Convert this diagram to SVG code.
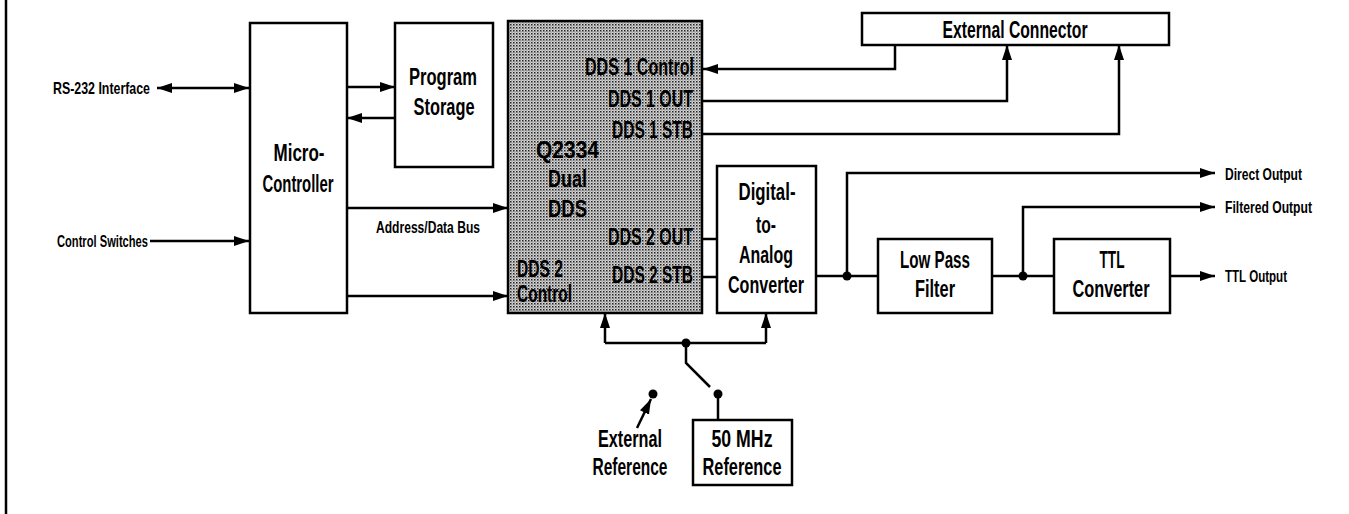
<svg xmlns="http://www.w3.org/2000/svg" width="1349" height="514" viewBox="0 0 1349 514">
<style>
.box{fill:#fff;stroke:#000;stroke-width:2.5}
.ln{fill:none;stroke:#000;stroke-width:2.5}
.ar{fill:none;stroke:#000;stroke-width:2.5;marker-end:url(#ah)}
text{font-family:"Liberation Sans","DejaVu Sans",sans-serif;font-weight:bold;fill:#000}
.big{font-size:23px;text-anchor:middle}
.dds{font-size:24px}
.sm{font-size:17px}
</style>
<defs>
<marker id="ah" markerUnits="userSpaceOnUse" markerWidth="15" markerHeight="11" refX="15" refY="5.5" orient="auto-start-reverse">
<path d="M0,0.5 L15,5.5 L0,10.5 z" fill="#000"/>
</marker>
<pattern id="hatch" width="3" height="3" patternUnits="userSpaceOnUse">
<rect width="3" height="3" fill="#d6d6d6"/>
<rect width="1.5" height="1.5" fill="#222"/>
<rect x="1.5" y="1.5" width="1" height="1" fill="#555"/>
</pattern>
</defs>

<line x1="6" y1="0" x2="6" y2="514" stroke="#000" stroke-width="2.5"/>

<g id="connectors">
<line class="ar" x1="157" y1="88" x2="249" y2="88" marker-start="url(#ah)"/>
<line class="ar" x1="150" y1="241" x2="249" y2="241" stroke-width="1.6"/>
<line class="ar" x1="347" y1="87" x2="395" y2="87"/>
<line class="ar" x1="395" y1="118" x2="347" y2="118"/>
<line class="ar" x1="347" y1="208" x2="508" y2="208"/>
<line class="ar" x1="347" y1="296" x2="508" y2="296"/>
<path class="ar" d="M895,45 V69 H703"/>
<path class="ar" d="M702,101 H1007 V45"/>
<path class="ar" d="M702,134 H1119 V45"/>
<line class="ln" x1="702" y1="239" x2="717" y2="239"/>
<line class="ln" x1="702" y1="277" x2="717" y2="277"/>
<line class="ln" x1="816" y1="276" x2="878" y2="276"/>
<path class="ar" d="M847,276 V173 H1215"/>
<line class="ln" x1="992" y1="276" x2="1054" y2="276"/>
<path class="ar" d="M1023,276 V207 H1215"/>
<line class="ar" x1="1170" y1="276" x2="1215" y2="276"/>
<circle cx="847" cy="276" r="4.5" fill="#000"/>
<circle cx="1023" cy="276" r="4.5" fill="#000"/>
<path class="ar" d="M605,343 V313"/>
<path class="ar" d="M766,343 V313"/>
<line class="ln" x1="605" y1="343" x2="766" y2="343"/>
<circle cx="686" cy="343" r="4.5" fill="#000"/>
<path class="ln" d="M686,343 V363 L710,387"/>
<circle cx="718" cy="394" r="4.5" fill="#000"/>
<circle cx="653" cy="394" r="4.5" fill="#000"/>
<line class="ln" x1="718" y1="394" x2="718" y2="420"/>
<line class="ar" x1="637" y1="428" x2="651" y2="399"/>
</g>

<g id="labels">
<text class="sm" x="53" y="94" textLength="97" lengthAdjust="spacingAndGlyphs">RS-232 Interface</text>
<text class="sm" x="57" y="247" textLength="91" lengthAdjust="spacingAndGlyphs">Control Switches</text>
<text class="sm" x="376" y="233" textLength="104" lengthAdjust="spacingAndGlyphs">Address/Data Bus</text>
<text class="sm" x="1225" y="180" textLength="77" lengthAdjust="spacingAndGlyphs">Direct Output</text>
<text class="sm" x="1225" y="213" textLength="87" lengthAdjust="spacingAndGlyphs">Filtered Output</text>
<text class="sm" x="1225" y="282" textLength="62" lengthAdjust="spacingAndGlyphs">TTL Output</text>
<text class="big" x="630" y="447" textLength="64" lengthAdjust="spacingAndGlyphs">External</text>
<text class="big" x="630" y="475" textLength="75" lengthAdjust="spacingAndGlyphs">Reference</text>
</g>

<g id="micro">
<rect class="box" x="250" y="23" width="97" height="290"/>
<text class="big" x="299" y="161" textLength="51" lengthAdjust="spacingAndGlyphs">Micro-</text>
<text class="big" x="298" y="192" textLength="71" lengthAdjust="spacingAndGlyphs">Controller</text>
</g>

<g id="program-storage">
<rect class="box" x="395" y="23" width="98" height="144"/>
<text class="big" x="443" y="85" textLength="68" lengthAdjust="spacingAndGlyphs">Program</text>
<text class="big" x="444" y="115" textLength="61" lengthAdjust="spacingAndGlyphs">Storage</text>
</g>

<g id="dds">
<rect x="508" y="21" width="194" height="292" fill="url(#hatch)" stroke="#000" stroke-width="2.5"/>
<text class="dds" x="585" y="75" textLength="109" lengthAdjust="spacingAndGlyphs">DDS 1 Control</text>
<text class="dds" x="608" y="107" textLength="85" lengthAdjust="spacingAndGlyphs">DDS 1 OUT</text>
<text class="dds" x="612" y="138" textLength="81" lengthAdjust="spacingAndGlyphs">DDS 1 STB</text>
<text class="dds" x="536" y="158" textLength="63" lengthAdjust="spacingAndGlyphs">Q2334</text>
<text class="dds" x="548" y="187" textLength="39" lengthAdjust="spacingAndGlyphs">Dual</text>
<text class="dds" x="548" y="217" textLength="39" lengthAdjust="spacingAndGlyphs">DDS</text>
<text class="dds" x="608" y="245" textLength="85" lengthAdjust="spacingAndGlyphs">DDS 2 OUT</text>
<text class="dds" x="612" y="283" textLength="81" lengthAdjust="spacingAndGlyphs">DDS 2 STB</text>
<text class="dds" x="517" y="277" textLength="46" lengthAdjust="spacingAndGlyphs">DDS 2</text>
<text class="dds" x="517" y="302" textLength="55" lengthAdjust="spacingAndGlyphs">Control</text>
</g>

<g id="ext-connector">
<rect class="box" x="862" y="13" width="307" height="32"/>
<text class="big" x="1015" y="38" textLength="145" lengthAdjust="spacingAndGlyphs">External Connector</text>
</g>

<g id="dac">
<rect class="box" x="717" y="166" width="99" height="147"/>
<text class="big" x="767" y="200" textLength="57" lengthAdjust="spacingAndGlyphs">Digital-</text>
<text class="big" x="766" y="233" textLength="20" lengthAdjust="spacingAndGlyphs">to-</text>
<text class="big" x="766" y="263" textLength="54" lengthAdjust="spacingAndGlyphs">Analog</text>
<text class="big" x="766" y="293" textLength="76" lengthAdjust="spacingAndGlyphs">Converter</text>
</g>

<g id="lpf">
<rect class="box" x="878" y="239" width="114" height="74"/>
<text class="big" x="935" y="268" textLength="70" lengthAdjust="spacingAndGlyphs">Low Pass</text>
<text class="big" x="935" y="297" textLength="40" lengthAdjust="spacingAndGlyphs">Filter</text>
</g>

<g id="ttl">
<rect class="box" x="1054" y="239" width="116" height="74"/>
<text class="big" x="1112" y="268" textLength="25" lengthAdjust="spacingAndGlyphs">TTL</text>
<text class="big" x="1111" y="297" textLength="77" lengthAdjust="spacingAndGlyphs">Converter</text>
</g>

<g id="ref50">
<rect class="box" x="693" y="420" width="99" height="65"/>
<text class="big" x="742" y="447" textLength="61" lengthAdjust="spacingAndGlyphs">50 MHz</text>
<text class="big" x="742" y="475" textLength="79" lengthAdjust="spacingAndGlyphs">Reference</text>
</g>
</svg>
